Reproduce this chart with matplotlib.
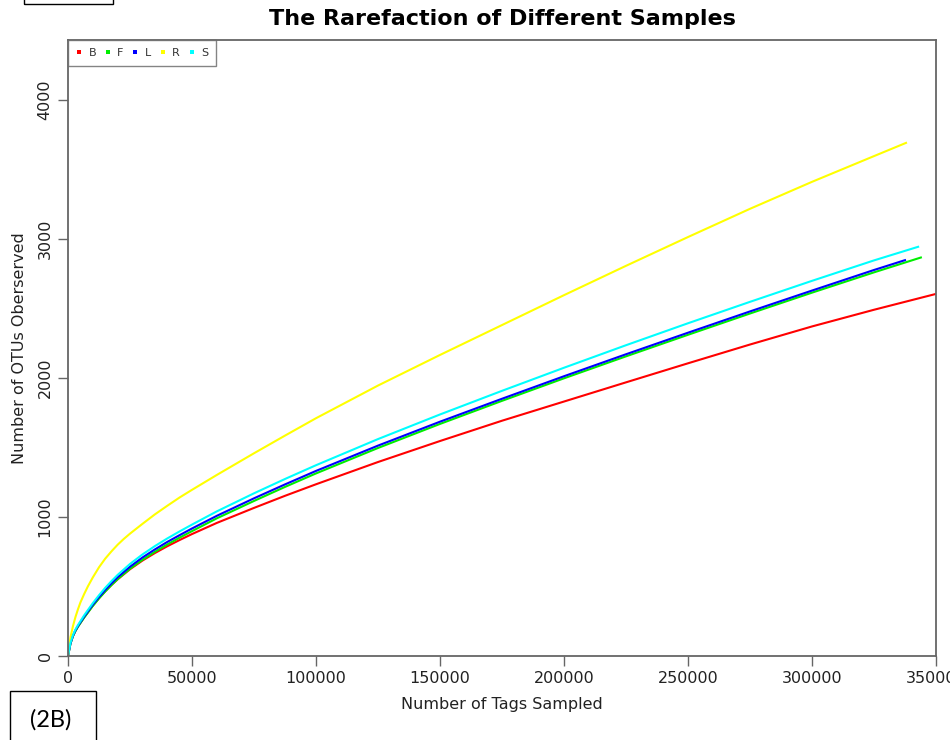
import matplotlib
matplotlib.use("Agg")
import matplotlib.pyplot as plt
from matplotlib.patches import Rectangle

# ---- data ----
x_common = [0, 1000, 2000, 3000, 4000, 5000, 6500, 8000, 10000, 12500, 15000, 17500,
            20000, 25000, 30000, 35000, 40000, 45000, 50000, 60000, 75000, 87500,
            100000, 125000, 150000, 175000, 200000, 225000, 250000, 275000, 300000, 325000]

x_B = x_common + [350000]
y_B = [0, 91, 143, 181, 212, 238, 278, 314, 362, 416, 465, 510,
       551, 624, 686, 740, 789, 834, 877, 957, 1065, 1152,
       1235, 1395, 1546, 1692, 1830, 1968, 2105, 2240, 2370, 2490, 2604]

x_F = x_common + [344300]
y_F = [0, 90, 143, 180, 210, 237, 276, 312, 360, 414, 464, 510,
       553, 628, 692, 749, 802, 851, 898, 990, 1115, 1216,
       1313, 1496, 1669, 1835, 1997, 2155, 2310, 2463, 2613, 2759, 2868]

x_L = x_common + [337900]
y_L = [0, 92, 146, 184, 215, 243, 283, 320, 369, 424, 475, 522,
       566, 642, 708, 766, 820, 869, 917, 1008, 1134, 1234,
       1331, 1513, 1685, 1850, 2012, 2170, 2325, 2478, 2628, 2776, 2849]

x_R = [0, 1000, 2000, 3000, 4000, 5000, 6500, 8000, 10000, 12500, 15000, 17500,
       20000, 22500, 25000, 30000, 35000, 40000, 45000, 50000, 60000, 75000, 87500,
       100000, 125000, 150000, 175000, 200000, 225000, 250000, 275000, 300000, 325000, 338300]
y_R = [0, 135, 215, 280, 335, 385, 445, 500, 565, 638, 700, 752,
       800, 842, 880, 950, 1018, 1080, 1140, 1195, 1302, 1458, 1585,
       1710, 1945, 2165, 2380, 2595, 2806, 3013, 3216, 3410, 3595, 3693]

x_S = x_common + [343200]
y_S = [0, 95, 150, 190, 222, 250, 292, 330, 380, 437, 490, 538,
       583, 662, 730, 790, 845, 896, 945, 1040, 1170, 1273,
       1372, 1560, 1737, 1907, 2073, 2235, 2393, 2547, 2698, 2845, 2945]

series_names = ["B", "F", "L", "R", "S"]
series_x = [x_B, x_F, x_L, x_R, x_S]
series_y = [y_B, y_F, y_L, y_R, y_S]
series_colors = ["#ff0000", "#00ee00", "#0000ff", "#ffff00", "#00ffff"]

x_ticks = [0, 50000, 100000, 150000, 200000, 250000, 300000, 350000]
y_ticks = [0, 1000, 2000, 3000, 4000]

title = "The Rarefaction of Different Samples"
xlabel = "Number of Tags Sampled"
ylabel = "Number of OTUs Oberserved"
panel_label = "(2B)"

# ---- figure ----
W, H = 950, 740
fig = plt.figure(figsize=(W / 100, H / 100), dpi=100)
ax = fig.add_axes([68 / W, 1 - 656 / H, (936 - 68) / W, (656 - 40) / H])

for name, xs, ys, c in zip(series_names, series_x, series_y, series_colors):
    ax.plot(xs, ys, color=c, lw=1.5, label=name, solid_capstyle="butt",
            solid_joinstyle="round")

ax.set_xlim(0, 350000)
ax.set_ylim(0, 4430)
ax.set_xticks(x_ticks)
ax.set_xticklabels([str(v) for v in x_ticks])
ax.set_yticks(y_ticks)
ax.set_yticklabels([str(v) for v in y_ticks], rotation=90, va="center")

tick_color = "#222222"
spine_color = "#666666"
for s in ax.spines.values():
    s.set_color(spine_color)
    s.set_linewidth(1.3)
ax.tick_params(axis="both", direction="out", length=7, width=1.0, color=spine_color,
               labelsize=11.5, labelcolor=tick_color, pad=4)

ax.set_xlabel(xlabel, fontsize=11.5, color=tick_color, labelpad=8)
ax.set_ylabel(ylabel, fontsize=11.5, color=tick_color, labelpad=8)
ax.set_title(title, fontsize=16, fontweight="bold", pad=11)

handles = [plt.Line2D([], [], ls="none", marker="s", markersize=3.5, color=c,
                      markeredgewidth=0) for c in series_colors]
leg = ax.legend(handles, series_names, loc="upper left", ncol=5, fontsize=8,
                frameon=True, fancybox=False, borderaxespad=0, handlelength=0.6,
                handletextpad=0.55, columnspacing=0.75, borderpad=0.7,
                labelcolor="#333333")
leg.get_frame().set_edgecolor(spine_color)
leg.get_frame().set_linewidth(1.0)

# panel boxes around the figure
fig.patches.append(Rectangle((24 / W, 1 - 4 / H), (113 - 24) / W, 0.05,
                             transform=fig.transFigure, fill=False,
                             edgecolor="black", lw=1.0))
fig.patches.append(Rectangle((9.5 / W, -0.05), (96 - 9.5) / W, (740 - 690.5) / H + 0.05,
                             transform=fig.transFigure, fill=False,
                             edgecolor="black", lw=1.0))
fig.text(51 / W, 1 - 720 / H, panel_label, fontsize=17, ha="center", va="center",
         family="Lato")

fig.savefig("out.png", dpi=100)
